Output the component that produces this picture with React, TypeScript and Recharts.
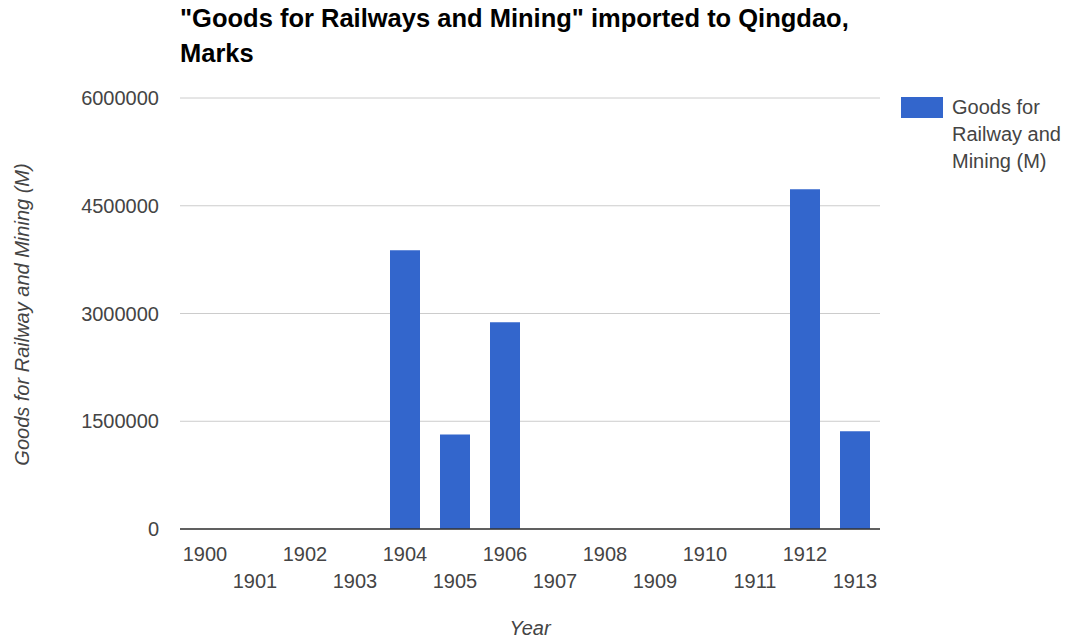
import { Bar, BarChart, CartesianGrid, XAxis, YAxis, Label } from 'recharts';

const YEARS = ['1900', '1901', '1902', '1903', '1904', '1905', '1906', '1907', '1908', '1909', '1910', '1911', '1912', '1913'];
const GOODS = [0, 0, 0, 0, 3880000, 1315000, 2877000, 0, 0, 0, 0, 0, 4730000, 1361000];
const Y_TICKS = [0, 1500000, 3000000, 4500000, 6000000];

const SERIES_NAME = 'Goods for Railway and Mining (M)';
const TITLE = '"Goods for Railways and Mining" imported to Qingdao, Marks';
const FONT = 'Arial, "Liberation Sans", sans-serif';
const BLUE = '#3366cc';

const data = YEARS.map((year, i) => ({ year, goods: GOODS[i] }));

function YearTick(props: any) {
  const { x, y, payload, index } = props;
  // Google-style staggered labels: even years on row one, odd years below
  const dy = index % 2 === 0 ? 32 : 59;
  return (
    <text x={x} y={y + dy} textAnchor="middle" fill="#444" fontSize={20} fontFamily={FONT}>
      {payload.value}
    </text>
  );
}

function YTitle(props: any) {
  const { viewBox } = props;
  const cy = viewBox.y + viewBox.height / 2 + 1;
  const cx = 29;
  return (
    <text
      x={cx} y={cy} transform={`rotate(-90, ${cx}, ${cy})`}
      textAnchor="middle" fill="#444" fontSize={20} fontStyle="italic" fontFamily={FONT}
    >
      Goods for Railway and Mining (M)
    </text>
  );
}

function XTitle(props: any) {
  const { viewBox } = props;
  return (
    <text
      x={viewBox.x + viewBox.width / 2} y={635}
      textAnchor="middle" fill="#444" fontSize={20} fontStyle="italic" fontFamily={FONT}
    >
      Year
    </text>
  );
}

export default function App() {
  return (
    <div style={{ position: 'absolute', left: 0, top: 0, width: 1069, height: 640, background: '#fff', fontFamily: FONT }}>
      <div style={{ position: 'absolute', left: 180, top: 1, width: 700, fontSize: 25.5, lineHeight: '35px', fontWeight: 'bold', color: '#000' }}>
        {TITLE}
      </div>
      <div style={{ position: 'absolute', left: 901, top: 97, display: 'flex', alignItems: 'flex-start' }}>
        <div style={{ width: 42, height: 21, background: BLUE, flex: 'none' }} />
        <div style={{ marginLeft: 9, marginTop: -3, width: 115, fontSize: 20, lineHeight: '27px', color: '#444' }}>
          {SERIES_NAME}
        </div>
      </div>
      <BarChart
        width={1069} height={640} data={data}
        margin={{ top: 98, right: 189, bottom: 0, left: 0 }}
        barCategoryGap="20%"
      >
        <CartesianGrid vertical={false} stroke="#ccc" />
        <XAxis
          dataKey="year" height={111} interval={0}
          tick={<YearTick />} tickLine={false} tickSize={0} tickMargin={0}
          axisLine={{ stroke: '#333', strokeWidth: 1.5 }}
        >
          <Label content={<XTitle />} />
        </XAxis>
        <YAxis
          width={180} domain={[0, 6000000]} ticks={Y_TICKS} interval={0}
          axisLine={false} tickLine={false} tickSize={0} tickMargin={21}
          tick={{ fill: '#444', fontSize: 20, fontFamily: FONT }}
        >
          <Label content={<YTitle />} />
        </YAxis>
        <Bar dataKey="goods" name={SERIES_NAME} fill={BLUE} isAnimationActive={false} />
      </BarChart>
    </div>
  );
}
